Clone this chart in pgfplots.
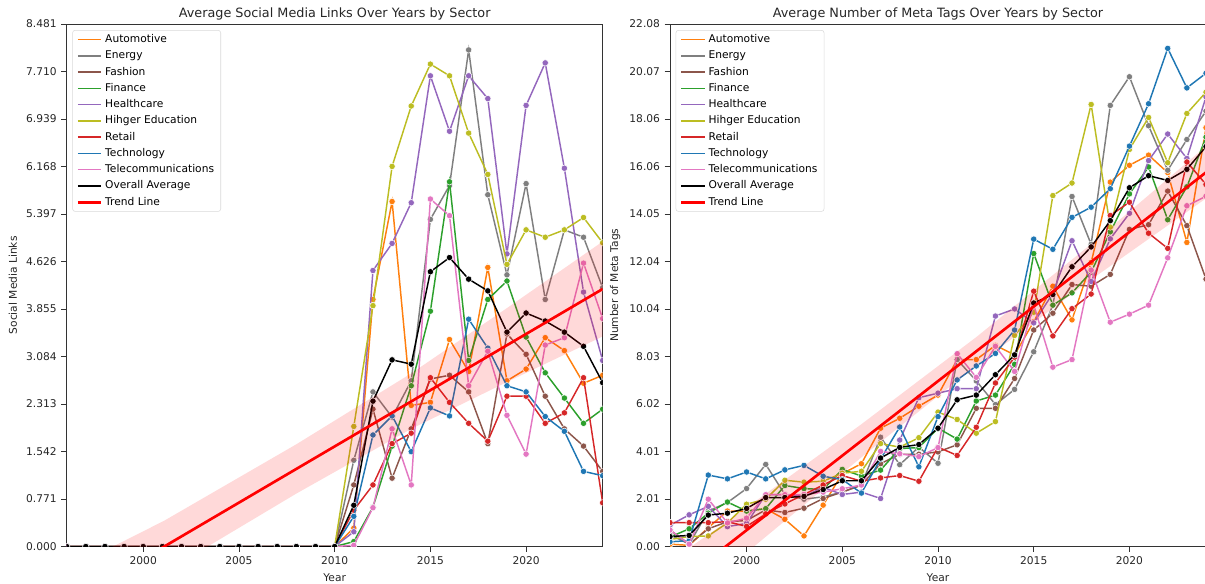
\documentclass[border=0pt]{standalone}
\usepackage{pgfplots}
\pgfplotsset{compat=1.18}
\usepackage{pgfplotstable}
\usepackage{fontspec}
\setmainfont{DejaVu Sans}

\definecolor{tabblue}{HTML}{1F77B4}
\definecolor{taborange}{HTML}{FF7F0E}
\definecolor{tabgreen}{HTML}{2CA02C}
\definecolor{tabred}{HTML}{D62728}
\definecolor{tabpurple}{HTML}{9467BD}
\definecolor{tabbrown}{HTML}{8C564B}
\definecolor{tabpink}{HTML}{E377C2}
\definecolor{tabgray}{HTML}{7F7F7F}
\definecolor{tabolive}{HTML}{BCBD22}

% average social media links per sector
\pgfplotstableread{
year Auto Energy Fashion Finance Health HigherEd Retail Tech Telecom Avg
1996 0 0 0 0 0 0 0 0 0 0
1997 0 0 0 0 0 0 0 0 0 0
1998 0 0 0 0 0 0 0 0 0 0
1999 0 0 0 0 0 0 0 0 0 0
2000 0 0 0 0 0 0 0 0 0 0
2001 0 0 0 0 0 0 0 0 0 0
2002 0 0 0 0 0 0 0 0 0 0
2003 0 0 0 0 0 0 0 0 0 0
2004 0 0 0 0 0 0 0 0 0 0
2005 0 0 0 0 0 0 0 0 0 0
2006 0 0 0 0 0 0 0 0 0 0
2007 0 0 0 0 0 0 0 0 0 0
2008 0 0 0 0 0 0 0 0 0 0
2009 0 0 0 0 0 0 0 0 0 0
2010 0 0 0 0 0 0 0 0 0 0
2011 0.30 1.40 1.00 0.08 0.24 1.95 0.59 0.49 0.02 0.67
2012 4.01 2.51 2.23 0.64 4.48 3.91 1.00 1.81 0.63 2.36
2013 5.60 2.10 1.11 1.63 4.92 6.17 1.67 2.12 1.91 3.03
2014 2.29 2.69 1.91 2.61 5.58 7.15 1.84 1.54 1.00 2.96
2015 2.34 5.31 2.72 3.82 7.64 7.83 2.74 2.25 5.64 4.46
2016 3.36 5.86 2.78 5.92 6.74 7.64 2.34 2.12 5.37 4.69
2017 2.84 8.06 2.51 3.02 7.64 6.71 2.00 3.69 2.61 4.34
2018 4.53 5.71 1.67 4.01 7.27 6.04 1.71 3.22 3.17 4.15
2019 2.69 4.41 3.45 4.31 4.75 4.58 2.44 2.61 2.13 3.48
2020 2.88 5.89 3.12 3.40 7.16 5.14 2.44 2.51 1.50 3.79
2021 3.39 4.01 2.44 2.82 7.85 5.02 2.00 2.11 3.27 3.66
2022 3.18 5.14 1.91 2.41 6.14 5.14 2.17 1.87 3.39 3.48
2023 2.65 5.02 1.63 2.00 4.13 5.34 2.74 1.22 4.60 3.25
2024 2.78 4.20 1.22 2.23 3.02 4.93 0.71 1.15 3.70 2.66
}\linksdata

% average number of meta tags per sector
\pgfplotstableread{
year Auto Energy Fashion Finance Health HigherEd Retail Tech Telecom Avg
1996 0.10 0.50 0.70 0.40 0.90 0.30 1.01 0.20 0.70 0.42
1997 0.05 0.10 0.10 0.75 1.34 0.42 1.01 0.25 0.10 0.47
1998 0.80 1.50 0.75 1.41 1.70 0.45 1.01 3.02 2.00 1.33
1999 1.50 1.86 1.05 1.88 0.84 1.00 1.05 2.86 1.00 1.41
2000 1.50 2.45 1.10 1.50 0.98 1.79 0.85 3.15 1.20 1.61
2001 1.60 3.47 1.55 1.60 2.19 2.00 1.38 2.86 2.19 2.07
2002 1.15 2.20 1.44 2.58 2.19 2.80 1.80 3.24 2.19 2.07
2003 0.45 2.00 1.62 2.45 2.12 2.72 2.20 3.43 2.20 2.12
2004 1.75 2.10 2.03 2.41 2.50 2.76 2.60 2.97 2.30 2.41
2005 3.08 2.30 2.30 3.26 2.20 3.10 3.00 2.83 2.44 2.78
2006 3.50 2.60 2.60 2.98 2.30 3.18 2.76 2.26 2.60 2.78
2007 5.00 4.62 3.50 3.23 2.03 4.35 2.90 3.70 4.02 3.74
2008 5.42 3.46 3.90 4.14 4.50 4.20 3.00 5.05 3.92 4.19
2009 5.93 4.20 3.90 4.18 6.29 4.60 2.76 3.37 3.80 4.31
2010 6.40 3.52 4.00 5.00 6.48 5.68 4.20 5.49 4.18 5.00
2011 7.90 7.90 4.30 4.54 6.67 5.37 3.85 7.04 8.15 6.20
2012 7.90 7.00 5.84 6.15 6.67 4.79 5.04 7.63 7.15 6.40
2013 8.50 6.00 5.84 6.40 9.74 5.28 6.91 8.16 8.46 7.26
2014 8.10 6.64 7.10 7.70 10.04 8.92 8.00 9.15 7.40 8.10
2015 9.50 8.23 9.15 12.38 9.45 9.90 10.79 12.99 10.20 10.29
2016 11.00 10.20 9.86 10.20 10.70 14.83 8.90 12.56 7.58 10.65
2017 9.58 14.79 11.07 10.72 12.92 15.36 10.05 13.91 7.90 11.82
2018 12.00 12.77 11.00 11.60 11.20 18.68 10.67 14.34 11.68 12.66
2019 15.40 18.64 11.50 13.30 13.00 13.50 13.99 15.12 9.48 13.77
2020 16.11 19.85 13.40 14.90 14.08 16.78 14.55 16.92 9.82 15.16
2021 16.54 17.78 13.60 16.04 16.31 18.13 13.24 18.71 10.20 15.67
2022 15.80 15.90 15.02 13.81 17.43 16.22 12.60 21.05 12.20 15.47
2023 12.85 17.20 13.56 15.20 16.40 18.30 16.25 19.38 14.40 15.94
2024 17.70 18.40 11.30 17.30 19.00 19.20 15.30 20.00 14.80 16.90
}\tagsdata

\pgfplotsset{
  panel/.style={
    scale only axis, width=402pt, height=391.9pt,
    xmin=1996, xmax=2024, ymin=0,
    xtick={2000,2005,2010,2015,2020},
    xticklabels={2000,2005,2010,2015,2020},
    tick align=outside, tick pos=left,
    major tick length=4pt,
    axis line style={black!80, line width=0.6pt},
    tick style={black!80, line width=0.6pt},
    ticklabel style={font=\fontsize{8}{9.6}\selectfont, text=black!85},
    label style={font=\fontsize{8}{9.6}\selectfont, text=black!85},
    title style={font=\fontsize{9.6}{11.5}\selectfont, text=black!85, yshift=-7pt},
    xlabel={Year},
    clip marker paths=true,
    legend cell align=left,
    legend image code/.code={\draw[#1] (0pt,0pt) -- (17.5pt,0pt);},
    legend style={at={(0.0105,0.9885)}, anchor=north west,
      draw=black!15, rounded corners=2pt, fill=white, fill opacity=0.8, text opacity=1,
      font=\fontsize{8}{9.6}\selectfont,
      nodes={inner ysep=1pt, inner xsep=2pt, text height=6.2pt, text depth=1.7pt},
      row sep=2.3pt},
  },
  sector/.style={color=#1, line width=1.1pt, mark=*, mark size=2.4pt,
    mark options={fill=#1, draw=white, line width=0.4pt}},
  trend/.style={red, line width=2pt},
  band/.style={draw=none, fill=red, fill opacity=0.15, forget plot},
}

\begin{document}
\begin{tikzpicture}
\path[use as bounding box] (0pt,-27.4pt) rectangle (903.75pt,409.9pt);

\begin{axis}[panel, at={(50pt,0pt)}, anchor=south west,
  ymax=8.481,
  title={Average Social Media Links Over Years by Sector},
  ylabel={Social Media Links},
  ytick={0,0.771,1.542,2.313,3.084,3.855,4.626,5.397,6.168,6.939,7.710,8.481},
  yticklabels={0.000,0.771,1.542,2.313,3.084,3.855,4.626,5.397,6.168,6.939,7.710,8.481},
]
\addplot[sector=taborange] table[x=year,y=Auto] {\linksdata}; \addlegendentry{Automotive}
\addplot[sector=tabgray] table[x=year,y=Energy] {\linksdata}; \addlegendentry{Energy}
\addplot[sector=tabbrown] table[x=year,y=Fashion] {\linksdata}; \addlegendentry{Fashion}
\addplot[sector=tabgreen] table[x=year,y=Finance] {\linksdata}; \addlegendentry{Finance}
\addplot[sector=tabpurple] table[x=year,y=Health] {\linksdata}; \addlegendentry{Healthcare}
\addplot[sector=tabolive] table[x=year,y=HigherEd] {\linksdata}; \addlegendentry{Hihger Education}
\addplot[sector=tabred] table[x=year,y=Retail] {\linksdata}; \addlegendentry{Retail}
\addplot[sector=tabblue] table[x=year,y=Tech] {\linksdata}; \addlegendentry{Technology}
\addplot[sector=tabpink] table[x=year,y=Telecom] {\linksdata}; \addlegendentry{Telecommunications}
\addplot[sector=black] table[x=year,y=Avg] {\linksdata}; \addlegendentry{Overall Average}
\addplot[band] coordinates {(1996,-1.48) (2001.1,-0.42) (2008,0.86) (2014,1.91) (2019,2.67) (2024,3.41)
  (2024,4.95) (2019,3.87) (2014,2.81) (2008,1.66) (2001.1,0.42) (1996,-0.38)} -- cycle;
\addplot[trend] coordinates {(1996,-0.93) (2024,4.18)}; \addlegendentry{Trend Line}
\end{axis}

\begin{axis}[panel, at={(502.5pt,0pt)}, anchor=south west,
  ymax=22.08,
  title={Average Number of Meta Tags Over Years by Sector},
  ylabel={Number of Meta Tags},
  ytick={0,2.0073,4.0145,6.0218,8.0291,10.0364,12.0436,14.0509,16.0582,18.0655,20.0727,22.08},
  yticklabels={0.00,2.01,4.01,6.02,8.03,10.04,12.04,14.05,16.06,18.06,20.07,22.08},
]
\addplot[sector=taborange] table[x=year,y=Auto] {\tagsdata}; \addlegendentry{Automotive}
\addplot[sector=tabgray] table[x=year,y=Energy] {\tagsdata}; \addlegendentry{Energy}
\addplot[sector=tabbrown] table[x=year,y=Fashion] {\tagsdata}; \addlegendentry{Fashion}
\addplot[sector=tabgreen] table[x=year,y=Finance] {\tagsdata}; \addlegendentry{Finance}
\addplot[sector=tabpurple] table[x=year,y=Health] {\tagsdata}; \addlegendentry{Healthcare}
\addplot[sector=tabolive] table[x=year,y=HigherEd] {\tagsdata}; \addlegendentry{Hihger Education}
\addplot[sector=tabred] table[x=year,y=Retail] {\tagsdata}; \addlegendentry{Retail}
\addplot[sector=tabblue] table[x=year,y=Tech] {\tagsdata}; \addlegendentry{Technology}
\addplot[sector=tabpink] table[x=year,y=Telecom] {\tagsdata}; \addlegendentry{Telecommunications}
\addplot[sector=black] table[x=year,y=Avg] {\tagsdata}; \addlegendentry{Overall Average}
\addplot[band] coordinates {(1996,-3.03) (2000,-0.26) (2006,3.77) (2012,7.65) (2018,11.28) (2024,14.71)
  (2024,16.91) (2018,12.78) (2012,8.85) (2006,5.17) (2000,1.64) (1996,-0.63)} -- cycle;
\addplot[trend] coordinates {(1996,-1.83) (2024,15.81)}; \addlegendentry{Trend Line}
\end{axis}
\end{tikzpicture}
\end{document}
